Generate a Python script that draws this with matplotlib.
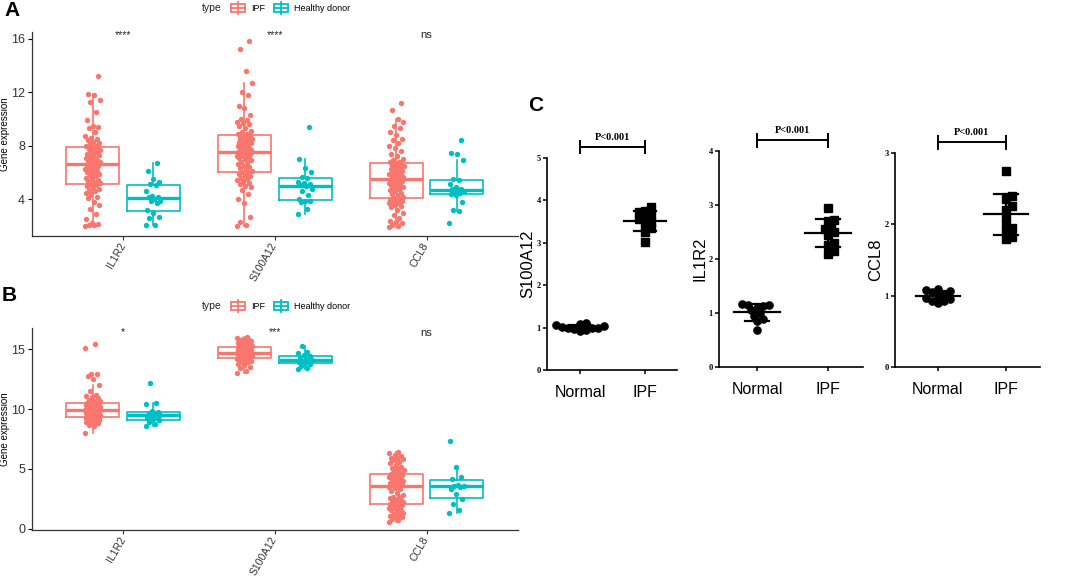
import numpy as np
import matplotlib
matplotlib.use("Agg")
import matplotlib.pyplot as plt
from matplotlib.patches import Rectangle
from matplotlib.lines import Line2D
from matplotlib.legend_handler import HandlerBase

plt.rcParams['font.family'] = ['Liberation Sans', 'DejaVu Sans']

IPF_COL = '#F8766D'
HD_COL = '#00BFC4'

genes = ['IL1R2', 'S100A12', 'CCL8']
groups = ['IPF', 'Healthy donor']

# ---- panel A values (dataset 1) ----
a_il1r2_ipf = [2.0, 2.05, 2.1, 2.15, 2.2, 2.5, 2.9, 3.3, 3.6, 3.8, 4.1, 4.2, 4.4, 4.5, 4.6, 4.7, 4.8, 4.9, 5.0, 5.05,
               5.15, 5.2, 5.3, 5.35, 5.4, 5.5, 5.6, 5.7, 5.8, 5.9, 6.0, 6.05, 6.1, 6.2, 6.25, 6.3, 6.4, 6.45, 6.5, 6.55,
               6.65, 6.7, 6.75, 6.8, 6.85, 6.9, 7.0, 7.05, 7.1, 7.2, 7.3, 7.35, 7.4, 7.5, 7.6, 7.65, 7.7, 7.75, 7.8, 7.85,
               7.95, 8.0, 8.1, 8.2, 8.3, 8.4, 8.5, 8.6, 8.7, 9.0, 9.3, 9.4, 9.5, 9.9, 10.5, 11.3, 11.4, 11.8, 11.9, 13.2]
a_il1r2_hd = [2.1, 2.1, 2.6, 2.7, 3.0, 3.2, 3.75, 3.85, 3.9, 4.0, 4.15, 4.2, 4.25, 4.6, 5.05, 5.15, 5.3, 5.5, 6.1, 6.7]
a_s100a12_ipf = [2.0, 2.1, 2.3, 2.7, 3.7, 4.0, 4.4, 4.7, 4.9, 5.0, 5.1, 5.2, 5.3, 5.4, 5.5, 5.6, 5.7, 5.8, 5.9, 5.95,
                 6.05, 6.1, 6.2, 6.3, 6.4, 6.5, 6.6, 6.7, 6.8, 6.9, 7.0, 7.05, 7.1, 7.2, 7.25, 7.3, 7.35, 7.4, 7.45, 7.5,
                 7.6, 7.65, 7.7, 7.75, 7.8, 7.85, 7.9, 8.0, 8.05, 8.1, 8.2, 8.25, 8.3, 8.4, 8.45, 8.5, 8.55, 8.6, 8.7, 8.75,
                 8.85, 8.9, 9.0, 9.1, 9.3, 9.5, 9.6, 9.7, 9.8, 9.9, 10.0, 10.3, 10.8, 11.0, 11.8, 12.0, 12.7, 13.6, 15.2, 15.8]
a_s100a12_hd = [2.9, 3.3, 3.8, 3.85, 3.9, 4.0, 4.3, 4.6, 4.8, 4.95, 5.05, 5.1, 5.2, 5.3, 5.55, 5.65, 6.0, 6.3, 7.0, 9.4]
a_ccl8_ipf = [1.9, 2.0, 2.1, 2.2, 2.3, 2.4, 2.6, 2.8, 3.0, 3.2, 3.4, 3.5, 3.6, 3.7, 3.75, 3.8, 3.85, 3.9, 3.95, 4.0,
              4.1, 4.2, 4.3, 4.4, 4.5, 4.6, 4.7, 4.8, 4.85, 4.9, 5.0, 5.05, 5.1, 5.15, 5.2, 5.25, 5.3, 5.35, 5.4, 5.45,
              5.55, 5.6, 5.65, 5.7, 5.75, 5.8, 5.85, 5.9, 5.95, 6.0, 6.1, 6.2, 6.25, 6.3, 6.4, 6.45, 6.5, 6.55, 6.6, 6.65,
              6.75, 6.8, 6.9, 7.0, 7.2, 7.4, 7.6, 7.8, 8.0, 8.2, 8.4, 8.5, 8.8, 9.0, 9.3, 9.5, 9.8, 10.0, 10.7, 11.2]
a_ccl8_hd = [2.2, 3.1, 3.2, 3.8, 4.3, 4.4, 4.5, 4.55, 4.6, 4.7, 4.75, 4.8, 4.9, 5.1, 5.4, 5.5, 6.9, 7.4, 7.45, 8.4]
a_signif = ['****', '****', 'ns']

# ---- panel B values (dataset 2) ----
b_il1r2_ipf = [8.0, 8.6, 8.7, 8.8, 8.9, 8.95, 9.0, 9.05, 9.1, 9.1, 9.15, 9.2, 9.2, 9.25, 9.25, 9.3, 9.3,
               9.35, 9.4, 9.4, 9.45, 9.5, 9.5, 9.55, 9.6, 9.6, 9.65, 9.7, 9.7, 9.75, 9.8, 9.8, 9.85, 9.85, 9.9,
               9.95, 10.0, 10.0, 10.05, 10.1, 10.1, 10.15, 10.2, 10.2, 10.25, 10.3, 10.3, 10.35, 10.4, 10.4, 10.45, 10.45, 10.5,
               10.55, 10.6, 10.65, 10.7, 10.8, 10.9, 11.0, 11.1, 11.2, 11.5, 12.0, 12.5, 12.8, 12.9, 12.9, 15.1, 15.4]
b_il1r2_hd = [8.6, 8.75, 8.9, 9.05, 9.15, 9.3, 9.4, 9.45, 9.5, 9.6, 9.7, 9.75, 9.85, 10.4, 10.5, 12.2]
b_s100a12_ipf = [13.05, 13.2, 13.4, 13.5, 13.7, 13.8, 13.9, 13.95, 14.0, 14.05, 14.1, 14.1, 14.15, 14.2, 14.2, 14.25, 14.25,
                 14.3, 14.3, 14.35, 14.35, 14.4, 14.4, 14.45, 14.45, 14.5, 14.5, 14.5, 14.55, 14.55, 14.6, 14.6, 14.6, 14.65, 14.65,
                 14.7, 14.7, 14.75, 14.8, 14.8, 14.85, 14.9, 14.9, 14.95, 15.0, 15.0, 15.05, 15.05, 15.1, 15.1, 15.15, 15.15, 15.2,
                 15.25, 15.3, 15.3, 15.35, 15.4, 15.45, 15.5, 15.5, 15.6, 15.6, 15.7, 15.7, 15.75, 15.8, 15.85, 15.95, 16.05]
b_s100a12_hd = [13.35, 13.45, 13.6, 13.8, 13.85, 13.9, 14.0, 14.05, 14.1, 14.15, 14.3, 14.45, 14.55, 14.7, 14.8, 15.3]
b_ccl8_ipf = [0.6, 0.75, 0.85, 0.95, 1.05, 1.1, 1.15, 1.25, 1.35, 1.45, 1.55, 1.6, 1.7, 1.75, 1.85, 1.9, 1.95,
              2.05, 2.1, 2.15, 2.2, 2.25, 2.3, 2.4, 2.45, 2.5, 2.55, 2.65, 2.7, 2.8, 3.0, 3.2, 3.35, 3.45, 3.5,
              3.6, 3.65, 3.7, 3.75, 3.8, 3.85, 3.9, 4.0, 4.05, 4.1, 4.2, 4.25, 4.3, 4.4, 4.45, 4.5, 4.55, 4.6,
              4.7, 4.8, 4.9, 5.0, 5.1, 5.2, 5.3, 5.5, 5.6, 5.75, 5.85, 5.9, 5.95, 6.05, 6.2, 6.3, 6.4]
b_ccl8_hd = [1.3, 1.6, 2.1, 2.5, 2.9, 3.3, 3.5, 3.6, 3.6, 3.65, 4.2, 4.3, 5.2, 7.3]
b_signif = ['*', '***', 'ns']

# ---- panel C values (qPCR, relative expression) ----
c_genes = ['S100A12', 'IL1R2', 'CCL8']
c_groups = ['Normal', 'IPF']
c_s100a12_normal = [0.92, 0.95, 0.97, 0.98, 1.0, 1.0, 1.02, 1.03, 1.05, 1.08, 1.1]
c_s100a12_ipf = [3.02, 3.25, 3.35, 3.45, 3.5, 3.55, 3.6, 3.65, 3.72, 3.75, 3.85]
c_il1r2_normal = [0.69, 0.85, 0.88, 0.95, 1.0, 1.05, 1.1, 1.12, 1.14, 1.15, 1.17]
c_il1r2_ipf = [2.1, 2.15, 2.25, 2.3, 2.45, 2.5, 2.55, 2.6, 2.7, 2.72, 2.95]
c_ccl8_normal = [0.9, 0.92, 0.93, 0.95, 0.97, 1.0, 1.02, 1.05, 1.07, 1.08, 1.1]
c_ccl8_ipf = [1.8, 1.82, 1.9, 1.95, 2.0, 2.1, 2.2, 2.25, 2.35, 2.4, 2.75]
c_ymax = [5, 4, 3]
c_pval = ['P<0.001', 'P<0.001', 'P<0.001']


class BoxKey(HandlerBase):
    # ggplot style boxplot legend key
    def create_artists(self, legend, orig, xd, yd, w, h, fs, trans):
        col = orig.get_edgecolor()
        x0, x1 = -xd + w * 0.1, -xd + w * 0.9
        y0 = -yd
        r = Rectangle((x0, y0 + h * 0.15), x1 - x0, h * 0.7, fill=False, ec=col, lw=1.3, transform=trans)
        m = Line2D([x0, x1], [y0 + h * 0.5] * 2, color=col, lw=1.3, transform=trans)
        wl = Line2D([-xd + w / 2] * 2, [y0 - h * 0.05, y0 + h * 1.05], color=col, lw=1.3, transform=trans)
        return [r, m, wl]


def jitter(n, width=0.05):
    return ((np.arange(n) * 0.618034) % 1 - 0.5) * 2 * width


def box_panel(ax, ipf_sets, hd_sets, signif, ylim, yticks, sig_y):
    for i, (ipf, hd) in enumerate(zip(ipf_sets, hd_sets)):
        for vals, pos, col in ((ipf, i + 1 - 0.2, IPF_COL), (hd, i + 1 + 0.2, HD_COL)):
            ax.boxplot([vals], positions=[pos], widths=0.35, showfliers=False,
                       boxprops=dict(color=col, lw=1.2), medianprops=dict(color=col, lw=2.4),
                       whiskerprops=dict(color=col, lw=1.2), capprops=dict(lw=0))
            v = np.asarray(vals)
            ax.scatter(pos + jitter(len(v)), v, s=15, color=col, lw=0, zorder=3)
        ax.text(i + 1, sig_y, signif[i], ha='center', va='center',
                fontsize=7.5 if signif[i] != 'ns' else 8, color='#222222')
    ax.set_xlim(0.4, 3.6)
    ax.set_ylim(*ylim)
    ax.set_yticks(yticks)
    ax.set_xticks([1, 2, 3])
    ax.set_xticklabels(genes, rotation=60, ha='right', va='center', rotation_mode='anchor',
                       fontsize=7.5, color='#333333')
    ax.tick_params(axis='y', labelsize=9, labelcolor='#333333', length=3, width=0.8, pad=2)
    ax.tick_params(axis='x', length=3, width=0.8, color='#333333', pad=2.5)
    ax.set_ylabel('Gene expression', fontsize=7)
    ax.yaxis.set_label_coords(-0.046, 0.5)
    for s in ('top', 'right'):
        ax.spines[s].set_visible(False)
    for s in ('left', 'bottom'):
        ax.spines[s].set_linewidth(0.9)
        ax.spines[s].set_color('#333333')


def swarm(vals, dx, dy):
    v = np.asarray(vals)
    offs = np.zeros(len(v))
    placed = []
    for i in np.argsort(v):
        for k in range(40):
            x = ((k + 1) // 2) * dx * 0.5 * (1 if k % 2 else -1)
            if all(((x - px) / dx) ** 2 + ((v[i] - py) / dy) ** 2 >= 1 for px, py in placed):
                break
        offs[i] = x
        placed.append((x, v[i]))
    return offs


fig = plt.figure(figsize=(10.65, 5.78), dpi=100)

axA = fig.add_axes([0.030, 0.5917, 0.456, 0.353])
box_panel(axA, [a_il1r2_ipf, a_s100a12_ipf, a_ccl8_ipf], [a_il1r2_hd, a_s100a12_hd, a_ccl8_hd],
          a_signif, (1.25, 16.5), [4, 8, 12, 16], 16.3)

axB = fig.add_axes([0.030, 0.0830, 0.456, 0.350])
box_panel(axB, [b_il1r2_ipf, b_s100a12_ipf, b_ccl8_ipf], [b_il1r2_hd, b_s100a12_hd, b_ccl8_hd],
          b_signif, (-0.1, 16.8), [0, 5, 10, 15], 16.4)

handles = [Rectangle((0, 0), 1, 1, ec=IPF_COL, fill=False), Rectangle((0, 0), 1, 1, ec=HD_COL, fill=False)]
for ly in (0.986, 0.4706):
    fig.text(0.199, ly, 'type', ha='center', va='center', fontsize=7.5, color='#222222')
    fig.legend(handles, groups, loc='center', bbox_to_anchor=(0.272, ly), ncol=2, frameon=False,
               fontsize=6.5, handler_map={Rectangle: BoxKey()}, handlelength=1.9, handleheight=1.4,
               columnspacing=0.8, handletextpad=0.5, borderaxespad=0, borderpad=0)

fig.text(0.011, 0.981, 'A', fontsize=15, fontweight='bold', ha='center', va='center')
fig.text(0.009, 0.488, 'B', fontsize=15, fontweight='bold', ha='center', va='center')
fig.text(0.503, 0.818, 'C', fontsize=15, fontweight='bold', ha='center', va='center')

# ---- panel C ----
c_sets = [(c_s100a12_normal, c_s100a12_ipf), (c_il1r2_normal, c_il1r2_ipf), (c_ccl8_normal, c_ccl8_ipf)]
c_rects = [[0.5136, 0.3599, 0.122, 0.3668], [0.6751, 0.3651, 0.1352, 0.3737], [0.8404, 0.3651, 0.1362, 0.3702]]
c_xlim = [(-0.51, 1.49), (-0.535, 1.49), (-0.63, 1.5)]
for k in range(3):
    ax = fig.add_axes(c_rects[k])
    ymax = c_ymax[k]
    ax_h = c_rects[k][3] * 578
    ax_w = c_rects[k][2] * 1065
    xl = c_xlim[k]
    dy = 6.0 / ax_h * ymax
    dx = 6.0 / ax_w * (xl[1] - xl[0])
    for j, (vals, mk) in enumerate(zip(c_sets[k], ['o', 's'])):
        v = np.asarray(vals)
        ax.plot(j + swarm(v, dx, dy), v, ls='none', marker=mk, ms=5.2, color='black', clip_on=False, zorder=3)
        m, sd = v.mean(), v.std(ddof=1)
        ax.plot([j - 0.32, j + 0.32], [m, m], color='black', lw=1.6, zorder=4)
        ax.plot([j - 0.17, j + 0.17], [m + sd, m + sd], color='black', lw=1.6, zorder=4)
        ax.plot([j - 0.17, j + 0.17], [m - sd, m - sd], color='black', lw=1.6, zorder=4)
        ax.plot([j, j], [m - sd, m + sd], color='black', lw=1.6, zorder=4)
    ax.set_xlim(*xl)
    ax.set_ylim(0, ymax)
    ax.set_yticks(range(ymax + 1))
    ax.set_xticks([0, 1])
    ax.set_xticklabels(c_groups, fontsize=11.5, family=['Liberation Sans Narrow', 'Liberation Sans'])
    ax.set_yticklabels([str(t) for t in range(ymax + 1)], fontsize=6,
                       family=['Liberation Serif', 'DejaVu Serif'], fontweight='bold')
    ax.tick_params(axis='both', length=3, width=1.1, pad=1.5)
    ax.tick_params(axis='x', pad=8)
    ax.set_ylabel(c_genes[k], fontsize=12, labelpad=1)
    for s in ('top', 'right'):
        ax.spines[s].set_visible(False)
    for s in ('left', 'bottom'):
        ax.spines[s].set_linewidth(1.2)
    # significance bracket
    bh = ymax * (0.052 if k == 0 else 0.05)
    by = ymax + bh
    tk = ymax * 0.03
    ax.plot([0, 1], [by, by], color='black', lw=1.4, clip_on=False)
    ax.plot([0, 0], [by - tk, by + tk], color='black', lw=1.4, clip_on=False)
    ax.plot([1, 1], [by - tk, by + tk], color='black', lw=1.4, clip_on=False)
    ax.text(0.5, by + ymax * 0.045, c_pval[k], ha='center', va='center', fontsize=7.5,
            family=['Liberation Serif', 'DejaVu Serif'], fontweight='bold')

fig.savefig('out.png', dpi=100)
